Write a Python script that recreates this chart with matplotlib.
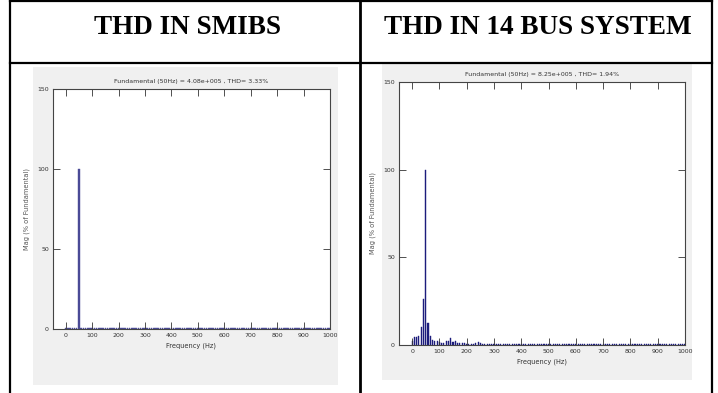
import numpy as np
import matplotlib.pyplot as plt
from matplotlib.patches import Rectangle
from matplotlib.lines import Line2D

# cabecalhos da tabela
headers = ['THD IN SMIBS', 'THD IN 14 BUS SYSTEM']
titles = ['Fundamental (50Hz) = 4.08e+005 , THD= 3.33%',
          'Fundamental (50Hz) = 8.25e+005 , THD= 1.94%']

# resolucao da FFT (6 ciclos de 50 Hz) -> 121 barras de 0 a 1000 Hz
resolucao = 50 / 6
n_bins = 121

# espectro SMIBS (% da fundamental)
mag_smibs = [0.8, 0.9, 0.8, 0.9, 0.8, 0.9, 100, 0.9, 0.8, 0.9, 0.8, 0.9,
             0.8, 0.9, 0.8, 0.9, 0.8, 0.9, 0.8, 0.9, 0.8, 0.9, 0.8, 0.9,
             0.8, 0.9, 0.8, 0.9, 0.8, 0.9, 0.8, 0.9, 0.8, 0.9, 0.8, 0.9,
             0.8, 0.9, 0.8, 0.9, 0.8, 0.9, 0.8, 0.9, 0.8, 0.9, 0.8, 0.9,
             0.8, 0.9, 0.8, 0.9, 0.8, 0.9, 0.8, 0.9, 0.8, 0.9, 0.8, 0.9,
             0.8, 0.9, 0.8, 0.9, 0.8, 0.9, 0.8, 0.9, 0.8, 0.9, 0.8, 0.9,
             0.8, 0.9, 0.8, 0.9, 0.8, 0.9, 0.8, 0.9, 0.8, 0.9, 0.8, 0.9,
             0.8, 0.9, 0.8, 0.9, 0.8, 0.9, 0.8, 0.9, 0.8, 0.9, 0.8, 0.9,
             0.8, 0.9, 0.8, 0.9, 0.8, 0.9, 0.8, 0.9, 0.8, 0.9, 0.8, 0.9,
             0.8, 0.9, 0.8, 0.9, 0.8, 0.9, 0.8, 0.9, 0.8, 0.9, 0.8, 0.9,
             0.8]

# espectro 14 barras (% da fundamental)
mag_14bus = [2.5, 4.4, 4.4, 5.3, 10.5, 26, 100, 12.5, 5.0, 3.0, 2.3, 2.0,
             1.5, 1.2, 1.0, 2.0, 2.5, 3.8, 1.6, 2.2, 1.3, 1.0, 1.0, 0.9,
             0.8, 0.7, 0.7, 0.8, 1.3, 1.7, 1.0, 0.7, 0.6, 0.6, 0.7, 0.6,
             0.6, 0.7, 0.6, 0.6, 0.7, 0.6, 0.6, 0.7, 0.6, 0.6, 0.7, 0.6,
             0.6, 0.7, 0.6, 0.6, 0.7, 0.6, 0.6, 0.7, 0.6, 0.6, 0.7, 0.6,
             0.6, 0.7, 0.6, 0.6, 0.7, 0.6, 0.6, 0.7, 0.6, 0.6, 0.7, 0.6,
             0.6, 0.7, 0.6, 0.6, 0.7, 0.6, 0.6, 0.7, 0.6, 0.6, 0.7, 0.6,
             0.6, 0.7, 0.6, 0.6, 0.7, 0.6, 0.6, 0.7, 0.6, 0.6, 0.7, 0.6,
             0.6, 0.7, 0.6, 0.6, 0.7, 0.6, 0.6, 0.7, 0.6, 0.6, 0.7, 0.6,
             0.6, 0.7, 0.6, 0.6, 0.7, 0.6, 0.6, 0.7, 0.6, 0.6, 0.7, 0.6,
             0.6]

freq = np.arange(n_bins) * resolucao
x_ticks = [0, 100, 200, 300, 400, 500, 600, 700, 800, 900, 1000]
y_ticks = [0, 50, 100, 150]

W, H = 718, 393
fig = plt.figure(figsize=(W / 100, H / 100), dpi=100)


def fx(px):
    return px / W


def fy(py):
    return 1 - py / H


def linha(x0, y0, x1, y1, lw=1.6):
    fig.add_artist(Line2D([fx(x0), fx(x1)], [fy(y0), fy(y1)],
                          transform=fig.transFigure, color='black', lw=lw))


# tabela
linha(10, 1, 712, 1)
linha(10, 63, 712, 63)
linha(10, 1, 10, 393)
linha(360, 1, 360, 393, lw=2)
linha(712, 1, 712, 393)

fig.text(fx(188), fy(28), headers[0], ha='center', va='center',
         family='Liberation Serif', weight='bold', fontsize=19.5)
fig.text(fx(538), fy(28), headers[1], ha='center', va='center',
         family='Liberation Serif', weight='bold', fontsize=19.5)

# paineis cinza (janelas do MATLAB)
paineis = [(33, 67, 338, 385), (382, 64, 692, 380)]
for (x0, y0, x1, y1) in paineis:
    fig.add_artist(Rectangle((fx(x0), fy(y1)), fx(x1) - fx(x0), fy(y0) - fy(y1),
                             transform=fig.transFigure, facecolor='#f0f0f0',
                             edgecolor='none', zorder=0))

eixos = [(53, 89, 330, 329), (399, 82, 685, 345)]
dados = [mag_smibs, mag_14bus]
cores = ['#4a4a96', '#1c1c7c']
larguras = [6, 4]
fonte = ['Liberation Sans Narrow', 'DejaVu Sans']

for i in range(2):
    x0, y0, x1, y1 = eixos[i]
    ax = fig.add_axes([fx(x0), fy(y1), fx(x1) - fx(x0), fy(y0) - fy(y1)])
    ax.bar(freq, dados[i], width=larguras[i], color=cores[i],
           edgecolor=cores[i], lw=0.3)
    ax.set_xlim(-48, 1000)
    ax.set_ylim(0, 150)
    ax.set_xticks(x_ticks)
    ax.set_yticks(y_ticks)
    ax.tick_params(direction='in', length=5, width=0.6, top=True, right=True,
                   labelsize=4.5, pad=3, colors='#333333')
    for lab in ax.get_xticklabels() + ax.get_yticklabels():
        lab.set_family(fonte)
    for s in ax.spines.values():
        s.set_linewidth(0.8)
        s.set_color('#444444')
    ax.set_title(titles[i], fontsize=4.5, family=fonte, pad=4, color='#333333')
    ax.set_xlabel('Frequency (Hz)', fontsize=4.8, family=fonte, labelpad=3,
                  color='#333333')
    ax.set_ylabel('Mag (% of Fundamental)', fontsize=4.8, family='DejaVu Sans',
                  labelpad=5, color='#555555')

fig.savefig('out.png', dpi=100)
